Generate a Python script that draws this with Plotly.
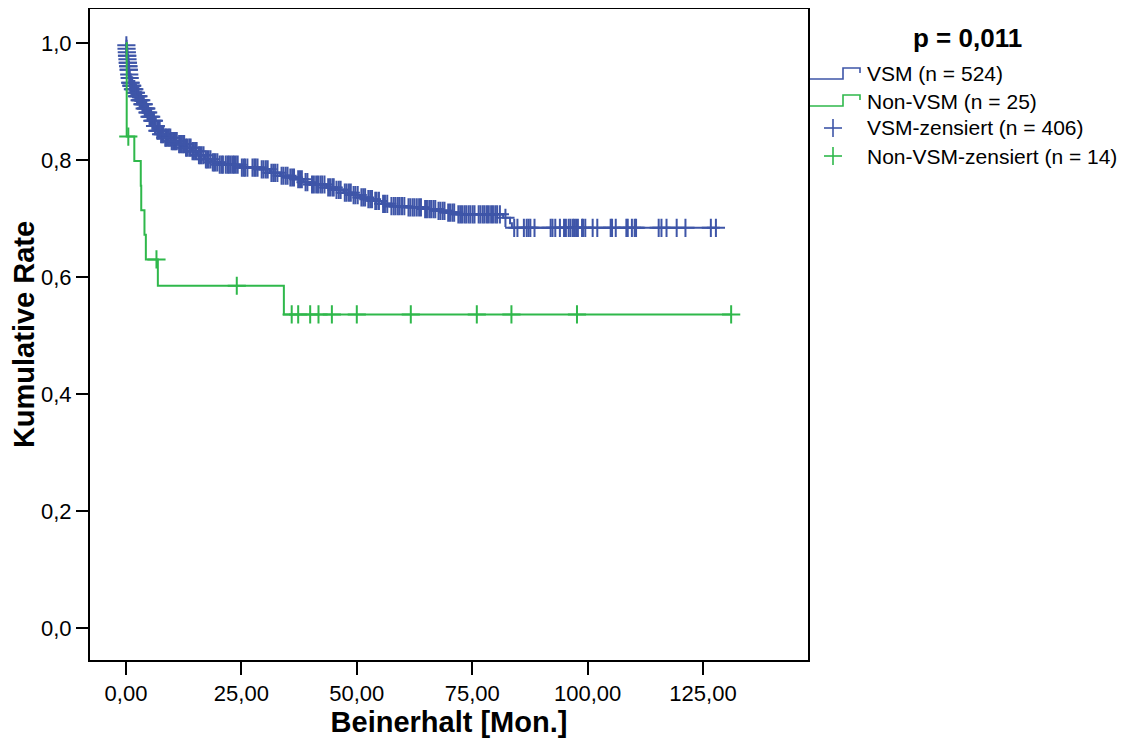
import numpy as np
import plotly.graph_objects as go

# ---------------- data ----------------
# VSM: times (months) at which the Kaplan-Meier curve steps down, and the new level
vsm_step_t = [0.0, 0.05, 0.1, 0.15, 0.2, 0.3, 0.35, 0.45, 0.55, 0.65, 0.75, 0.87, 1.1, 1.4,
              1.9, 2.3, 2.8, 3.4, 3.9, 4.5, 5.0, 5.6, 6.1, 6.6, 7.5, 8.4, 9.8, 11.3, 12.8,
              14.2, 15.6, 17.1, 18.6, 20.0, 24.7, 29.0, 31.2, 33.4, 35.2, 37.0, 38.5, 39.9,
              43.5, 45.3, 47.1, 49.0, 50.7, 52.2, 53.6, 55.4, 57.2, 60.8, 64.4, 67.3, 69.5,
              71.6, 81.7, 83.2, 83.6]
vsm_step_s = [1.0, 0.996, 0.99, 0.984, 0.978, 0.972, 0.966, 0.96, 0.954, 0.946, 0.94, 0.932,
              0.927, 0.921, 0.915, 0.909, 0.902, 0.895, 0.888, 0.881, 0.874, 0.867, 0.858,
              0.85, 0.844, 0.838, 0.832, 0.827, 0.821, 0.815, 0.808, 0.801, 0.796, 0.792,
              0.787, 0.784, 0.778, 0.773, 0.77, 0.767, 0.762, 0.758, 0.753, 0.749, 0.744,
              0.74, 0.736, 0.733, 0.73, 0.725, 0.721, 0.719, 0.716, 0.713, 0.71, 0.707,
              0.701, 0.692, 0.684]
vsm_end_t = 127.8

# VSM censored observations (months)
vsm_cens_t = [
    0.08, 0.12, 0.18, 0.22, 0.27, 0.32, 0.38, 0.42, 0.48, 0.52, 0.58, 0.62, 0.7, 0.8, 0.92,
    1.0, 1.15, 1.25, 1.35, 1.5,
    1.65, 1.8, 2.0, 2.15, 2.4, 2.55, 2.7, 2.95, 3.1, 3.3, 3.55, 3.7, 3.85, 4.05, 4.3, 4.4,
    4.65, 4.8, 5.1, 5.3, 5.45, 5.7, 5.9, 6.05, 6.3, 6.45, 6.8, 7.0,
    7.3, 7.6, 7.9, 8.1, 8.5, 8.7, 9.0, 9.3, 9.6, 9.9, 10.2, 10.5, 10.7, 11.0, 11.5, 11.8,
    12.1, 12.4, 12.6, 13.0, 13.3, 13.7, 14.0, 14.4, 14.7, 15.0, 15.3, 15.8, 16.1, 16.4,
    16.8, 17.3, 17.6, 17.9, 18.3, 18.8, 19.1, 19.4, 19.8,
    20.3, 20.7, 21.0, 21.6, 22.0, 22.3, 22.7, 23.1, 23.4, 23.8, 24.2, 25.1, 25.5, 25.8,
    26.3, 27.4, 27.8, 28.1, 28.5, 29.4, 29.8, 30.3, 30.7, 31.5, 31.9, 32.3, 32.8, 33.7,
    34.1, 34.6, 35.0, 35.6, 36.0, 36.4, 37.3, 37.7, 38.1, 38.9, 39.3, 40.3, 40.7, 41.2,
    41.6, 42.1, 42.5, 43.0, 43.8, 44.2, 44.7, 45.0, 45.6, 46.1, 46.5, 47.4, 47.8, 48.3,
    48.7, 49.3, 49.7, 50.2,
    51.0, 51.4, 51.8, 52.5, 52.9, 53.3, 54.0, 54.3, 54.8, 55.7, 56.1, 56.6, 57.5, 58.0,
    58.4, 58.9, 59.3, 59.8, 60.3, 61.2, 61.6, 62.1, 62.5, 63.0, 63.5, 63.9, 64.8, 65.2,
    65.7, 66.1, 66.6, 67.0, 67.7, 68.1, 68.6, 69.0, 69.8, 70.2, 70.7, 71.1, 72.0, 72.4,
    72.8, 73.3, 73.7, 74.2, 74.6, 75.1, 75.5, 76.4, 76.8, 77.3, 77.7, 78.2, 78.6, 79.1,
    79.5, 80.0, 80.4, 81.0, 82.2,
    84.1, 84.8, 86.2, 86.8, 87.2, 87.6, 88.5, 92.0, 92.4, 93.0, 94.0, 94.9, 95.3, 95.9,
    96.3, 96.8, 97.1, 97.5, 97.9, 98.8, 99.0, 99.5, 101.1, 102.1, 105.0, 105.3, 106.1,
    108.4, 108.7, 109.6, 110.2, 110.5, 115.4, 116.0, 117.1, 119.3, 121.2, 126.7, 127.8]

# Non-VSM
nvsm_step_t = [0.0, 0.15, 1.8, 3.2, 3.3, 4.0, 4.3, 6.9, 34.2]
nvsm_step_s = [1.0, 0.84, 0.798, 0.756, 0.714, 0.672, 0.63, 0.585, 0.536]
nvsm_end_t = 131.1
nvsm_cens_t = [0.5, 6.6, 24.0, 35.9, 37.3, 39.9, 41.7, 44.6, 50.0, 61.7, 76.0, 83.5,
               97.7, 131.1]

x_tickvals = [0, 25, 50, 75, 100, 125]
x_ticktext = ["0,00", "25,00", "50,00", "75,00", "100,00", "125,00"]
y_tickvals = [0.0, 0.2, 0.4, 0.6, 0.8, 1.0]
y_ticktext = ["0,0", "0,2", "0,4", "0,6", "0,8", "1,0"]

legend_labels = ["VSM (n = 524)", "Non-VSM (n = 25)", "VSM-zensiert (n = 406)",
                 "Non-VSM-zensiert (n = 14)"]
p_text = "p = 0,011"

BLUE = "#3e55a8"
GREEN = "#2fb84b"
FONT = "Liberation Sans, Arial, sans-serif"


def level_at(step_t, step_s, times):
    st = np.asarray(step_t)
    ss = np.asarray(step_s)
    idx = np.searchsorted(st, np.asarray(times), side="right") - 1
    return ss[idx]


fig = go.Figure()

for st, ss, end_t, cens, col in [
    (vsm_step_t, vsm_step_s, vsm_end_t, vsm_cens_t, BLUE),
    (nvsm_step_t, nvsm_step_s, nvsm_end_t, nvsm_cens_t, GREEN),
]:
    xs = list(st) + [end_t]
    ys = list(ss) + [ss[-1]]
    fig.add_trace(go.Scatter(x=xs, y=ys, mode="lines", line=dict(color=col, width=2, shape="hv"),
                             showlegend=False, hoverinfo="skip"))
    fig.add_trace(go.Scatter(x=cens, y=level_at(st, ss, cens), mode="markers",
                             marker=dict(symbol="cross-thin", size=13,
                                         line=dict(width=2, color=col)),
                             showlegend=False, hoverinfo="skip"))

# ---------------- layout ----------------
OFF = 8                      # default page body margin of the html page
W, H = 1132 - OFF, 738 - OFF
L, R, T, B = 82, 324, 1, 78
pw, ph = W - L - R, H - T - B


def px(x):  # page pixel -> paper fraction
    return (x - OFF - L) / pw


def py(y):
    return (H + OFF - B - y) / ph


shapes = []
annotations = []

# custom legend, step icons for curves, crosses for censored marks
rows = [74, 101, 128, 156]
cols = [BLUE, GREEN, BLUE, GREEN]
for i, (r, c, lab) in enumerate(zip(rows, cols, legend_labels)):
    if i < 2:
        path = "M {},{} L {},{} L {},{} L {},{} L {},{}".format(
            px(810), py(r + 5), px(843), py(r + 5), px(843), py(r - 6),
            px(860), py(r - 6), px(860), py(r - 1))
        shapes.append(dict(type="path", xref="paper", yref="paper", path=path,
                           line=dict(color=c, width=1.6)))
    else:
        shapes.append(dict(type="line", xref="paper", yref="paper", x0=px(824), x1=px(842),
                           y0=py(r), y1=py(r), line=dict(color=c, width=1.6)))
        shapes.append(dict(type="line", xref="paper", yref="paper", x0=px(833), x1=px(833),
                           y0=py(r - 9), y1=py(r + 9), line=dict(color=c, width=1.6)))
    annotations.append(dict(x=px(865), y=py(r), xref="paper", yref="paper", text=lab,
                            showarrow=False, xanchor="left", yanchor="middle",
                            font=dict(size=21, color="black", family=FONT)))

annotations.append(dict(x=px(967), y=py(38), xref="paper", yref="paper",
                        text="<b>" + p_text + "</b>", showarrow=False,
                        xanchor="center", yanchor="middle",
                        font=dict(size=26, color="black", family=FONT)))

fig.update_layout(
    width=W, height=H,
    margin=dict(l=L, r=R, t=T, b=B, autoexpand=False),
    plot_bgcolor="white", paper_bgcolor="white",
    font=dict(family=FONT, color="black", size=22),
    shapes=shapes, annotations=annotations,
    showlegend=False,
)
fig.update_xaxes(
    range=[-7.8, 147.75], tickvals=x_tickvals, ticktext=x_ticktext,
    showgrid=False, zeroline=False, showline=True, linecolor="black", linewidth=2,
    mirror=True, ticks="outside", ticklen=13, tickwidth=2, tickcolor="black",
    tickfont=dict(size=22, family=FONT),
    title=dict(text="<b>Beinerhalt [Mon.]</b>", font=dict(size=29, family=FONT), standoff=6),
)
fig.update_yaxes(
    range=[-0.0547, 1.058], tickvals=y_tickvals, ticktext=y_ticktext,
    showgrid=False, zeroline=False, showline=True, linecolor="black", linewidth=2,
    mirror=True, ticks="outside", ticklen=12, tickwidth=2, tickcolor="black",
    tickfont=dict(size=22, family=FONT),
    title=dict(text="<b>Kumulative Rate</b>", font=dict(size=29, family=FONT), standoff=10),
)

fig.write_html("out.html")
